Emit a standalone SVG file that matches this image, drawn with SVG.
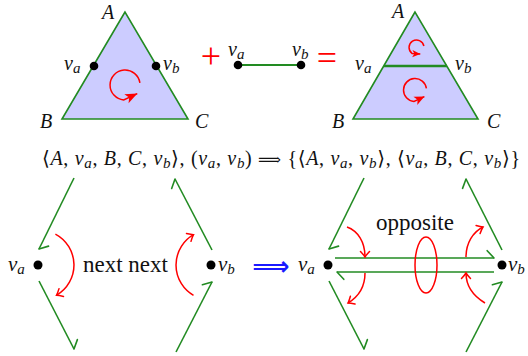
<svg xmlns="http://www.w3.org/2000/svg" width="528" height="356" viewBox="0 0 528 356">
<style>
.tri{fill:#ccccff;stroke:#228b22;stroke-width:1.6;stroke-linejoin:miter}
.g{stroke:#228b22;stroke-width:1.6;fill:none}
.r{stroke:#ff0000;stroke-width:1.5;fill:none}
.dot{fill:#000}
.lab{font-family:"Liberation Serif","Times New Roman","DejaVu Serif",serif;font-style:italic;font-size:20px;fill:#111}
.s{font-size:15px}
.f{font-family:"Liberation Serif","Times New Roman","DejaVu Serif",serif;font-size:20px;fill:#111}
.i{font-style:italic}
.ar{font-size:16px}
.txt{font-family:"Liberation Serif","Times New Roman","DejaVu Serif",serif;font-size:23px;fill:#111}
</style>
<defs>
<marker id="harp" viewBox="-12 -12 24 24" markerWidth="24" markerHeight="24" refX="0" refY="0" orient="auto" markerUnits="userSpaceOnUse"><path d="M0,0 L-6.8,-7.3" stroke="#228b22" stroke-width="1.6" fill="none" stroke-linecap="round"/></marker>
<marker id="chev" viewBox="-12 -12 24 24" markerWidth="24" markerHeight="24" refX="0" refY="0" orient="auto" markerUnits="userSpaceOnUse"><path d="M-5.5,-4.5 Q-2,-1.2 0,0 Q-2,1.2 -5.5,4.5" stroke="#ff0000" stroke-width="1.5" fill="none" stroke-linecap="round"/></marker>
<marker id="stL" viewBox="-14 -8 16 16" markerWidth="16" markerHeight="16" refX="0" refY="0" orient="auto" markerUnits="userSpaceOnUse"><path d="M0,0 L-12,-5 L-9,0 L-12,5 Z" fill="#ff0000"/></marker>
<marker id="stM" viewBox="-14 -8 16 16" markerWidth="16" markerHeight="16" refX="0" refY="0" orient="auto" markerUnits="userSpaceOnUse"><path d="M0,0 L-10,-4.5 L-7.5,0 L-10,4.5 Z" fill="#ff0000"/></marker>
<marker id="stS" viewBox="-14 -8 16 16" markerWidth="16" markerHeight="16" refX="0" refY="0" orient="auto" markerUnits="userSpaceOnUse"><path d="M0,0 L-8,-3.6 L-6,0 L-8,3.6 Z" fill="#ff0000"/></marker>
</defs>

<g id="tri-left">
<polygon class="tri" points="125,12 62,119 188,119"/>
<path class="r" d="M139.9,82.9 A15,15 0 1 0 123.7,100 L137.3,93.6" marker-end="url(#stL)"/>
<circle class="dot" cx="94" cy="66" r="4.3"/>
<circle class="dot" cx="156" cy="66" r="4.3"/>
<text class="lab" x="102" y="19">A</text>
<text class="lab" x="64" y="70">v<tspan class="s" dy="3">a</tspan></text>
<text class="lab" x="163" y="70">v<tspan class="s" dy="3">b</tspan></text>
<text class="lab" x="40" y="128">B</text>
<text class="lab" x="195" y="128">C</text>
</g>

<g id="plus"><text x="211" y="68" text-anchor="middle" style="font-family:'Liberation Serif',serif;font-size:36px;fill:#ff0000">+</text></g>

<g id="segment">
<line x1="238" y1="65" x2="301" y2="65" stroke="#228b22" stroke-width="2.2"/>
<circle class="dot" cx="238" cy="65" r="4.3"/>
<circle class="dot" cx="301" cy="65" r="4.3"/>
<text class="lab" x="228" y="56">v<tspan class="s" dy="3">a</tspan></text>
<text class="lab" x="292" y="56">v<tspan class="s" dy="3">b</tspan></text>
</g>

<g id="equals"><text x="327" y="70" text-anchor="middle" style="font-family:'Liberation Serif',serif;font-size:36px;fill:#ff0000">=</text></g>

<g id="tri-right">
<polygon class="tri" points="415,12 353,119 478,119"/>
<line x1="384" y1="66" x2="447" y2="66" stroke="#228b22" stroke-width="2.6"/>
<path class="r" d="M423.9,46 A7.5,7.5 0 1 0 412.2,53.6 L420.3,54" marker-end="url(#stS)"/>
<path class="r" d="M426.4,88.4 A11.5,11.5 0 1 0 414,101.5 L424.4,96.6" marker-end="url(#stM)"/>
<text class="lab" x="392" y="18">A</text>
<text class="lab" x="355" y="70">v<tspan class="s" dy="3">a</tspan></text>
<text class="lab" x="455" y="70">v<tspan class="s" dy="3">b</tspan></text>
<text class="lab" x="332" y="128">B</text>
<text class="lab" x="487" y="128">C</text>
</g>

<g id="formula">
<text class="f" x="42" y="165" textLength="478" lengthAdjust="spacing">⟨<tspan class="i">A</tspan>, <tspan class="i">v</tspan><tspan class="i s" dy="3">a</tspan><tspan dy="-3">, </tspan><tspan class="i">B</tspan>, <tspan class="i">C</tspan>, <tspan class="i">v</tspan><tspan class="i s" dy="3">b</tspan><tspan dy="-3">⟩, (</tspan><tspan class="i">v</tspan><tspan class="i s" dy="3">a</tspan><tspan dy="-3">, </tspan><tspan class="i">v</tspan><tspan class="i s" dy="3">b</tspan><tspan dy="-3">) </tspan><tspan class="ar">⟹</tspan> {⟨<tspan class="i">A</tspan>, <tspan class="i">v</tspan><tspan class="i s" dy="3">a</tspan><tspan dy="-3">, </tspan><tspan class="i">v</tspan><tspan class="i s" dy="3">b</tspan><tspan dy="-3">⟩, ⟨</tspan><tspan class="i">v</tspan><tspan class="i s" dy="3">a</tspan><tspan dy="-3">, </tspan><tspan class="i">B</tspan>, <tspan class="i">C</tspan>, <tspan class="i">v</tspan><tspan class="i s" dy="3">b</tspan><tspan dy="-3">⟩}</tspan></text>
</g>

<g id="bottom-left">
<circle class="dot" cx="38" cy="265" r="4.5"/>
<circle class="dot" cx="211" cy="265" r="4.5"/>
<text class="lab" x="8" y="271" style="font-size:21px">v<tspan class="s" dy="3">a</tspan></text>
<text class="lab" x="218" y="271" style="font-size:21px">v<tspan class="s" dy="3">b</tspan></text>
<text class="txt" x="83" y="272">next next</text>
</g>

<g id="implies"><text x="271" y="275" text-anchor="middle" style="font-family:'DejaVu Sans',sans-serif;font-size:26px;font-weight:bold;fill:#1a1aff">⟹</text></g>

<g id="bottom-right">
<circle class="dot" cx="328" cy="265" r="4.5"/>
<circle class="dot" cx="502" cy="265" r="4.5"/>
<text class="lab" x="298" y="271" style="font-size:21px">v<tspan class="s" dy="3">a</tspan></text>
<text class="lab" x="508" y="271" style="font-size:21px">v<tspan class="s" dy="3">b</tspan></text>
<text class="txt" x="415" y="230" text-anchor="middle">opposite</text>
</g>

<g id="connectors">
<path class="g" d="M74,178 L39,249" marker-end="url(#harp)"/>
<path class="g" d="M39,281 L74,349" marker-end="url(#harp)"/>
<path class="g" d="M212,250 L175,179" marker-end="url(#harp)"/>
<path class="g" d="M176,352 L212,282" marker-end="url(#harp)"/>
<path class="r" d="M55.4,234.1 A35,35 0 0 1 56.5,295.3" marker-end="url(#chev)"/>
<path class="r" d="M193.5,295.3 A35,35 0 0 1 193.5,234.7" marker-end="url(#chev)"/>

<path class="g" d="M364,178 L329,249" marker-end="url(#harp)"/>
<path class="g" d="M329,281 L364,349" marker-end="url(#harp)"/>
<path class="g" d="M502,250 L466,179" marker-end="url(#harp)"/>
<path class="g" d="M466,352 L502,282" marker-end="url(#harp)"/>
<path class="g" d="M335,258 L494,258" marker-end="url(#harp)"/>
<path class="g" d="M494,272 L337,272" marker-end="url(#harp)"/>
<path class="r" d="M347,227 C358,231 365,242 365,257" marker-end="url(#chev)"/>
<path class="r" d="M365,273 C365,287 358,297 348,303" marker-end="url(#chev)"/>
<path class="r" d="M466,257 C466,243 473,232 483,227" marker-end="url(#chev)"/>
<path class="r" d="M485,303 C475,297 466,287 466,273" marker-end="url(#chev)"/>
<ellipse class="r" cx="426" cy="265" rx="11" ry="28"/>
</g>
</svg>
